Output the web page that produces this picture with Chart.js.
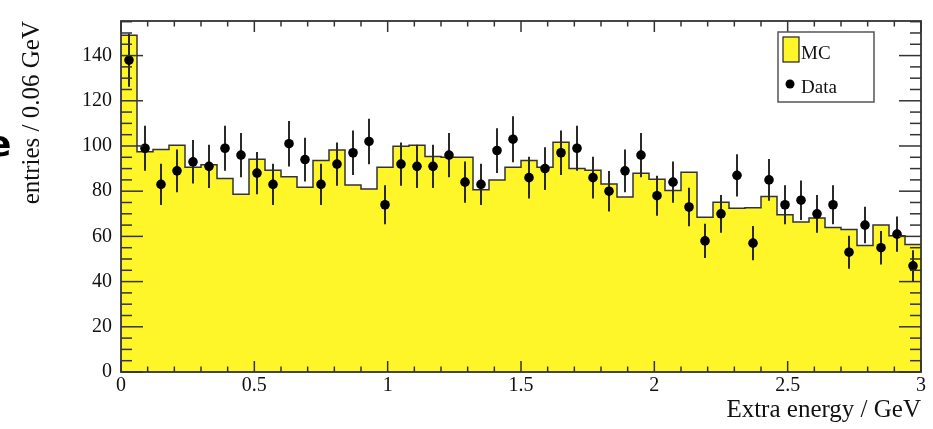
<!DOCTYPE html>
<html>
<head>
<meta charset="utf-8">
<title>Extra energy</title>
<script src="https://cdn.jsdelivr.net/npm/chart.js@4.4.0/dist/chart.umd.min.js"></script>
<style>
  html, body { margin: 0; padding: 0; background: #fff; }
  #wrap { width: 933px; height: 429px; }
</style>
</head>
<body>
<div id="wrap"><canvas id="extraEnergyChart" width="933" height="429"></canvas></div>
<script>
// ========================================
// Extra energy histogram - MC vs Data, 0.06 GeV bins
// ========================================

const binWidth = 0.06;

// MC expectation per bin (yellow histogram)
const mcCounts = [
    149.0, 97.4, 98.4, 100.3, 90.6, 91.7, 85.6, 78.6, 94.1, 89.3,
    86.4, 81.7, 93.6, 98.2, 82.7, 81.0, 90.6, 99.9, 100.3, 95.3,
    95.0, 95.0, 80.6, 84.9, 90.6, 93.6, 90.6, 101.7, 90.0, 89.3,
    83.2, 77.4, 87.9, 85.3, 80.3, 88.4, 68.5, 75.1, 72.5, 72.7,
    77.7, 69.6, 66.4, 68.1, 63.9, 63.1, 56.0, 65.0, 60.3, 56.4
];

// Data entries per bin (black points)
const dataCounts = [
    138, 99, 83, 89, 93, 91, 99, 96, 88, 83,
    101, 94, 83, 92, 97, 102, 74, 92, 91, 91,
    96, 84, 83, 98, 103, 86, 90, 97, 99, 86,
    80, 89, 96, 78, 84, 73, 58, 70, 87, 57,
    85, 74, 76, 70, 74, 53, 65, 55, 61, 47
];

const xTickLabels = [0, 0.5, 1, 1.5, 2, 2.5, 3];
const yTickLabels = [0, 20, 40, 60, 80, 100, 120, 140];
const yMax = 155.3;

const SERIF = '"Liberation Serif", "DejaVu Serif", serif';
const YELLOW = 'rgb(255, 246, 42)';

// Histogram outline: one point per bin edge, stepped
const mcPoints = mcCounts.map((v, i) => ({ x: i * binWidth, y: v }));
mcPoints.push({ x: mcCounts.length * binWidth, y: mcCounts[mcCounts.length - 1] });

// Data at bin centres
const dataPoints = dataCounts.map((v, i) => ({ x: (i + 0.5) * binWidth, y: v }));

// Poisson error bars under the data markers
const errorBarsPlugin = {
    id: 'errorBars',
    beforeDatasetDraw(chart, args) {
        if (args.meta.type !== 'scatter') return;
        const { ctx, scales: { x, y } } = chart;
        ctx.save();
        ctx.strokeStyle = '#2a2a2a';
        ctx.lineWidth = 2;
        dataPoints.forEach(p => {
            const err = Math.sqrt(p.y);
            const px = x.getPixelForValue(p.x);
            ctx.beginPath();
            ctx.moveTo(px, y.getPixelForValue(p.y - err));
            ctx.lineTo(px, y.getPixelForValue(p.y + err));
            ctx.stroke();
        });
        ctx.restore();
    }
};

// ROOT style frame with inward ticks on all four sides
const frameTicksPlugin = {
    id: 'frameTicks',
    afterDatasetsDraw(chart) {
        const { ctx, chartArea: a, scales: { x, y } } = chart;
        const seg = (x1, y1, x2, y2) => {
            ctx.beginPath();
            ctx.moveTo(x1, y1);
            ctx.lineTo(x2, y2);
            ctx.stroke();
        };
        ctx.save();
        ctx.strokeStyle = '#333';
        ctx.lineWidth = 1.5;
        for (let k = 0; k <= 30; k++) {
            const px = x.getPixelForValue(k / 10);
            const len = k % 5 === 0 ? 11 : 5.5;
            seg(px, a.bottom, px, a.bottom - len);
            seg(px, a.top, px, a.top + len);
        }
        for (let v = 0; v <= yMax; v += 5) {
            const py = y.getPixelForValue(v);
            const len = v % 20 === 0 ? 22 : 11;
            seg(a.left, py, a.left + len, py);
            seg(a.right, py, a.right - len, py);
        }
        ctx.lineWidth = 1.8;
        ctx.strokeRect(a.left, a.top, a.width, a.height);
        ctx.restore();
    },
    afterDraw(chart) {
        const { ctx } = chart;
        ctx.save();
        // legend box
        ctx.fillStyle = '#fff';
        ctx.fillRect(778, 32, 96, 70);
        ctx.strokeStyle = '#555';
        ctx.lineWidth = 1.5;
        ctx.strokeRect(778, 32, 96, 70);
        ctx.fillStyle = YELLOW;
        ctx.fillRect(783, 37, 16, 25);
        ctx.strokeStyle = '#222';
        ctx.lineWidth = 1.2;
        ctx.strokeRect(783, 37, 16, 25);
        ctx.fillStyle = '#000';
        ctx.beginPath();
        ctx.arc(790, 84, 4.5, 0, Math.PI * 2);
        ctx.fill();
        ctx.fillStyle = '#111';
        ctx.font = '19px ' + SERIF;
        ctx.textBaseline = 'alphabetic';
        ctx.fillText('MC', 801, 59);
        ctx.fillText('Data', 801, 93);
        // clipped glyph at the left edge of the picture
        ctx.font = 'bold 36px "DejaVu Sans", sans-serif';
        ctx.fillStyle = '#000';
        ctx.fillText('e', -13, 156);
        ctx.restore();
    }
};

const canvas = document.getElementById('extraEnergyChart');

new Chart(canvas, {
    data: {
        datasets: [{
            type: 'line',
            label: 'MC',
            order: 1,
            data: mcPoints,
            stepped: 'before',
            fill: 'origin',
            backgroundColor: YELLOW,
            borderColor: '#333',
            borderWidth: 1.5,
            pointRadius: 0,
            tension: 0
        }, {
            type: 'scatter',
            label: 'Data',
            order: 0,
            data: dataPoints,
            pointRadius: 4.8,
            pointBackgroundColor: '#000',
            pointBorderWidth: 0
        }]
    },
    options: {
        responsive: false,
        animation: false,
        layout: { padding: { left: 0, right: 12, top: 10, bottom: 0 } },
        plugins: {
            legend: { display: false },
            tooltip: { enabled: false }
        },
        scales: {
            x: {
                type: 'linear',
                min: 0,
                max: 3,
                afterBuildTicks: s => { s.ticks = xTickLabels.map(v => ({ value: v })); },
                afterFit: s => { s.height = 57; },
                grid: { display: false, drawTicks: false },
                border: { display: false },
                ticks: {
                    color: '#111',
                    font: { family: SERIF, size: 20 },
                    padding: 2,
                    maxRotation: 0,
                    autoSkip: false,
                    callback: v => String(v)
                },
                title: {
                    display: true,
                    text: 'Extra energy / GeV',
                    align: 'end',
                    color: '#111',
                    font: { family: SERIF, size: 25 },
                    padding: { top: 0, bottom: 4 }
                }
            },
            y: {
                type: 'linear',
                min: 0,
                max: yMax,
                afterBuildTicks: s => { s.ticks = yTickLabels.map(v => ({ value: v })); },
                afterFit: s => { s.width = 121; },
                grid: { display: false, drawTicks: false },
                border: { display: false },
                ticks: {
                    color: '#111',
                    font: { family: SERIF, size: 20 },
                    padding: 9,
                    autoSkip: false,
                    callback: v => String(v)
                },
                title: {
                    display: true,
                    text: 'entries / 0.06 GeV',
                    align: 'end',
                    color: '#111',
                    font: { family: SERIF, size: 25 },
                    padding: { top: 17, bottom: 0 }
                }
            }
        }
    },
    plugins: [errorBarsPlugin, frameTicksPlugin]
});
</script>
</body>
</html>
